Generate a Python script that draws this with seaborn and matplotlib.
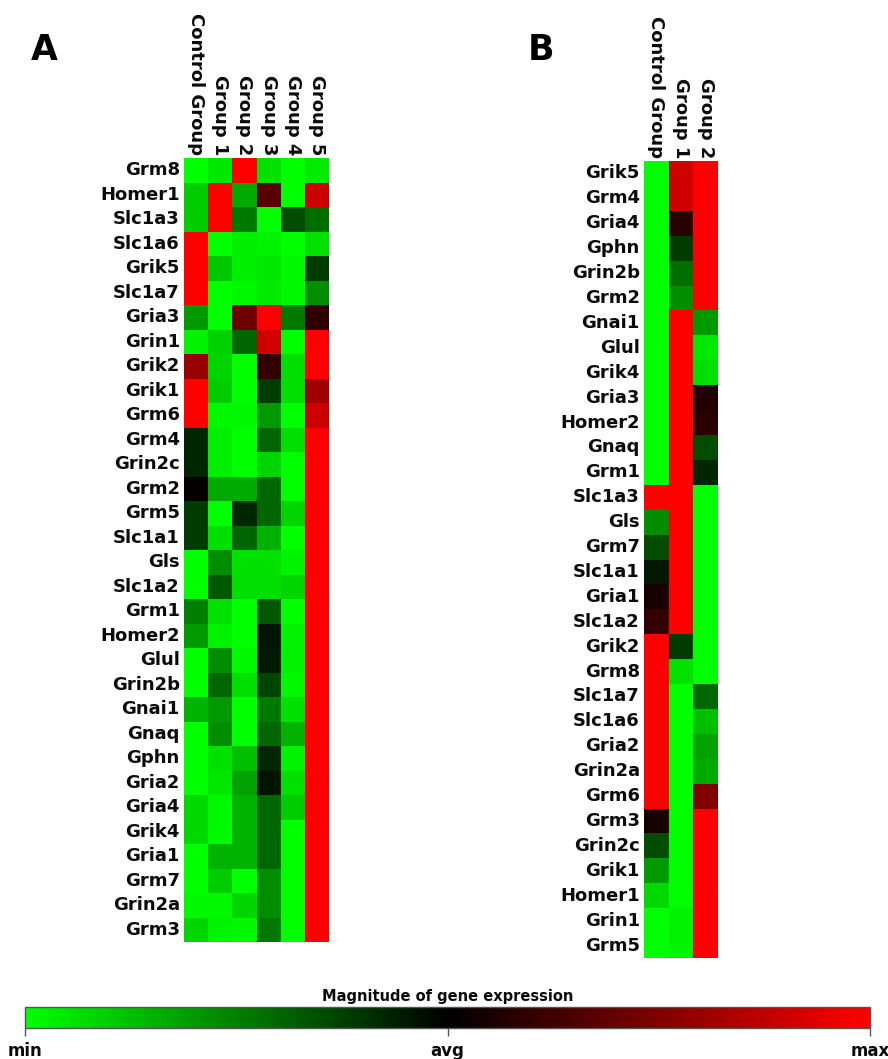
import numpy as np
import pandas as pd
import matplotlib
matplotlib.use("Agg")
import matplotlib.pyplot as plt
import seaborn as sns
from matplotlib.colors import LinearSegmentedColormap, Normalize
from matplotlib.cm import ScalarMappable

sns.set_theme(style="white")
plt.rcParams["font.family"] = ["DejaVu Sans"]

# ---- Panel A: six groups ----
cols_a = ["Control Group", "Group 1", "Group 2", "Group 3", "Group 4", "Group 5"]
genes_a = ["Grm8", "Homer1", "Slc1a3", "Slc1a6", "Grik5", "Slc1a7", "Gria3", "Grin1",
           "Grik2", "Grik1", "Grm6", "Grm4", "Grin2c", "Grm2", "Grm5", "Slc1a1",
           "Gls", "Slc1a2", "Grm1", "Homer2", "Glul", "Grin2b", "Gnai1", "Gnaq",
           "Gphn", "Gria2", "Gria4", "Grik4", "Gria1", "Grm7", "Grin2a", "Grm3"]
control_a = [-1.00, -0.80, -0.80, 1.00, 1.00, 1.00, -0.60, -0.95, 0.60, 1.00, 1.00,
             -0.15, -0.15, 0.03, -0.23, -0.23, -1.00, -1.00, -0.50, -0.60, -1.00,
             -1.00, -0.70, -1.00, -1.00, -1.00, -0.85, -0.85, -1.00, -1.00, -0.97, -0.83]
group1_a = [-0.90, 1.00, 1.00, -1.00, -0.78, -1.00, -1.00, -0.82, -0.83, -0.80, -0.97,
            -0.93, -0.93, -0.67, -1.00, -0.87, -0.55, -0.35, -0.88, -0.95, -0.55,
            -0.40, -0.60, -0.55, -0.88, -0.90, -0.97, -0.97, -0.70, -0.80, -0.97, -0.95]
group2_a = [1.00, -0.67, -0.47, -0.93, -0.93, -0.97, 0.43, -0.40, -1.00, -1.00, -0.97,
            -1.00, -1.00, -0.67, -0.15, -0.40, -0.88, -0.87, -1.00, -1.00, -0.97,
            -0.87, -1.00, -1.00, -0.75, -0.63, -0.70, -0.70, -0.70, -1.00, -0.83, -0.97]
group3_a = [-0.88, 0.35, -1.00, -0.95, -0.90, -0.92, 1.00, 0.82, 0.20, -0.23, -0.60,
            -0.40, -0.83, -0.40, -0.40, -0.70, -0.88, -0.87, -0.35, -0.08, -0.10,
            -0.27, -0.47, -0.40, -0.15, -0.08, -0.40, -0.40, -0.40, -0.55, -0.55, -0.47]
group4_a = [-1.00, -1.00, -0.30, -1.00, -0.97, -0.97, -0.47, -1.00, -0.87, -0.87, -1.00,
            -0.87, -1.00, -1.00, -0.83, -1.00, -0.95, -0.83, -1.00, -0.95, -0.95,
            -0.97, -0.88, -0.70, -0.95, -0.88, -0.80, -1.00, -1.00, -1.00, -1.00, -1.00]
group5_a = [-0.92, 0.80, -0.43, -0.88, -0.23, -0.55, 0.18, 1.00, 1.00, 0.63, 0.80,
            1.00, 1.00, 1.00, 1.00, 1.00, 1.00, 1.00, 1.00, 1.00, 1.00,
            1.00, 1.00, 1.00, 1.00, 1.00, 1.00, 1.00, 1.00, 1.00, 1.00, 1.00]

# ---- Panel B: three groups ----
cols_b = ["Control Group", "Group 1", "Group 2"]
genes_b = ["Grik5", "Grm4", "Gria4", "Gphn", "Grin2b", "Grm2", "Gnai1", "Glul", "Grik4",
           "Gria3", "Homer2", "Gnaq", "Grm1", "Slc1a3", "Gls", "Grm7", "Slc1a1",
           "Gria1", "Slc1a2", "Grik2", "Grm8", "Slc1a7", "Slc1a6", "Gria2", "Grin2a",
           "Grm6", "Grm3", "Grin2c", "Grik1", "Homer1", "Grin1", "Grm5"]
control_b = [-1.00, -1.00, -1.00, -1.00, -1.00, -1.00, -1.00, -1.00, -1.00, -1.00, -1.00,
             -1.00, -1.00, 1.00, -0.55, -0.30, -0.10, 0.10, 0.20, 1.00, 1.00, 1.00,
             1.00, 1.00, 1.00, 1.00, 0.10, -0.30, -0.60, -0.85, -1.00, -1.00]
group1_b = [0.82, 0.82, 0.15, -0.23, -0.43, -0.55, 1.00, 1.00, 1.00, 1.00, 1.00,
            1.00, 1.00, 1.00, 1.00, 1.00, 1.00, 1.00, 1.00, -0.23, -0.88, -1.00,
            -1.00, -1.00, -1.00, -1.00, -1.00, -1.00, -1.00, -1.00, -0.95, -0.95]
group2_b = [1.00, 1.00, 1.00, 1.00, 1.00, 1.00, -0.60, -0.90, -0.87, 0.13, 0.15,
            -0.30, -0.15, -1.00, -1.00, -1.00, -1.00, -1.00, -1.00, -1.00, -1.00, -0.40,
            -0.75, -0.63, -0.67, 0.50, 1.00, 1.00, 1.00, 1.00, 1.00, 1.00]

df_a = pd.DataFrame({c: v for c, v in zip(cols_a, [control_a, group1_a, group2_a,
                                                   group3_a, group4_a, group5_a])},
                    index=genes_a)
df_b = pd.DataFrame({c: v for c, v in zip(cols_b, [control_b, group1_b, group2_b])},
                    index=genes_b)

cmap = LinearSegmentedColormap.from_list("grn_blk_red", ["#00ff00", "#000000", "#ff0000"])

W, H = 888, 1059
fig = plt.figure(figsize=(W / 100, H / 100), dpi=100)

def px_axes(x0, y0, x1, y1):
    return fig.add_axes([x0 / W, 1 - y1 / H, (x1 - x0) / W, (y1 - y0) / H])

label_font = dict(fontsize=13, fontweight="bold", color="#0a0a0a")

def draw_panel(ax, df):
    sns.heatmap(df, ax=ax, cmap=cmap, vmin=-1, vmax=1, cbar=False,
                linewidths=0, square=False)
    ax.xaxis.tick_top()
    ax.set_xticklabels(df.columns, rotation=270, ha="center", va="bottom", **label_font)
    ax.set_yticklabels(df.index, rotation=0, **label_font)
    ax.tick_params(axis="both", length=0)
    ax.tick_params(axis="x", pad=2)
    ax.tick_params(axis="y", pad=3)
    ax.set_xlabel("")
    ax.set_ylabel("")

ax_a = px_axes(184, 158, 329, 942)
draw_panel(ax_a, df_a)
ax_b = px_axes(644, 161, 718, 958)
draw_panel(ax_b, df_b)

fig.text(44 / W, 1 - 50 / H, "A", fontsize=25, fontweight="bold", color="black",
         ha="center", va="center")
fig.text(541 / W, 1 - 50 / H, "B", fontsize=25, fontweight="bold", color="black",
         ha="center", va="center")

# ---- shared colour scale ----
cax = px_axes(25, 1007, 870, 1028)
sm = ScalarMappable(norm=Normalize(vmin=-1, vmax=1), cmap=cmap)
cb = fig.colorbar(sm, cax=cax, orientation="horizontal", ticks=[-1, 0, 1])
cb.ax.set_xticklabels(["min", "avg", "max"], fontsize=12, fontweight="bold", color="#0a0a0a")
cb.ax.tick_params(length=6, width=1, color="#555555", pad=4)
cb.outline.set_edgecolor("#555555")
cb.outline.set_linewidth(1)
cax.set_title("Magnitude of gene expression", fontsize=10.5, fontweight="bold",
              color="#0a0a0a", pad=4)

fig.savefig("out.png", dpi=100, facecolor="white")
